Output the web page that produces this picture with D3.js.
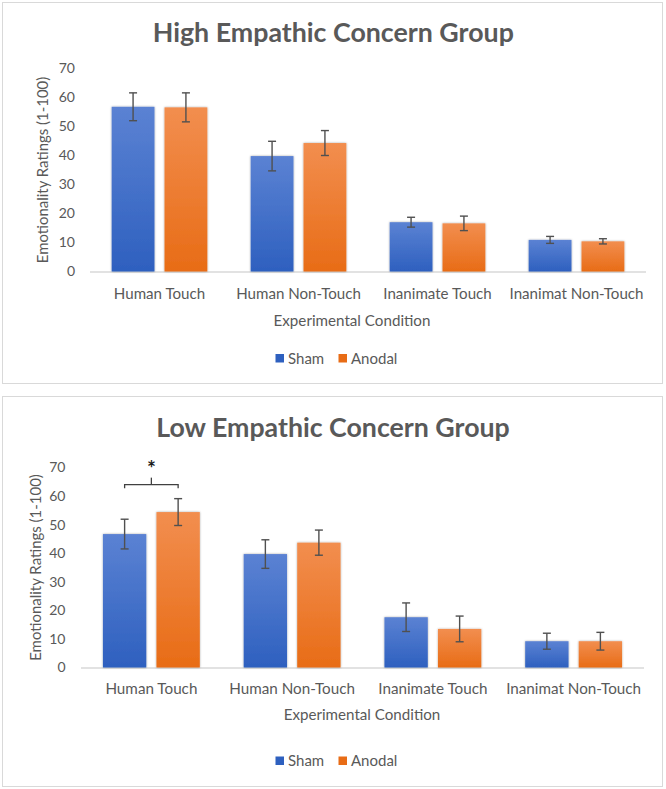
<!DOCTYPE html>
<html>
<head>
<meta charset="utf-8">
<script src="https://cdn.jsdelivr.net/npm/d3@7"></script>
<style>
  html, body { margin: 0; padding: 0; background: #ffffff; }
  svg { display: block; }
  text { font-family: Lato, "Open Sans", sans-serif; fill: #595959; }
</style>
</head>
<body>
<svg id="chart" width="666" height="789"></svg>
<script>
// ---------------- data ----------------
const categories = ["Human Touch", "Human Non-Touch", "Inanimate Touch", "Inanimat Non-Touch"];
const seriesNames = ["Sham", "Anodal"];
const yTicks = [0, 10, 20, 30, 40, 50, 60, 70];

const highTitle = "High Empathic Concern Group";
const highSham = [56.8, 39.8, 17.0, 10.9];
const highShamErr = [4.8, 5.1, 1.7, 1.2];
const highAnodal = [56.6, 44.3, 16.6, 10.4];
const highAnodalErr = [5.0, 4.3, 2.5, 0.9];

const lowTitle = "Low Empathic Concern Group";
const lowSham = [46.7, 39.7, 17.6, 9.2];
const lowShamErr = [5.2, 5.0, 5.0, 2.8];
const lowAnodal = [54.4, 43.7, 13.5, 9.2];
const lowAnodalErr = [4.7, 4.4, 4.5, 3.1];
const lowSignificance = [{ category: "Human Touch", level: 64.0, label: "*" }];

const yAxisTitle = "Emotionality Ratings (1-100)";
const xAxisTitle = "Experimental Condition";

// ---------------- drawing ----------------
const svg = d3.select("#chart");
const defs = svg.append("defs");
const gradColors = {
  Sham: ["#5b82d3", "#2e60bf"],
  Anodal: ["#f28e4f", "#e86c16"]
};
seriesNames.forEach(s => {
  const g = defs.append("linearGradient").attr("id", "grad-" + s)
    .attr("x1", 0).attr("y1", 0).attr("x2", 0).attr("y2", 1);
  g.append("stop").attr("offset", "0%").attr("stop-color", gradColors[s][0]);
  g.append("stop").attr("offset", "100%").attr("stop-color", gradColors[s][1]);
});
const flt = defs.append("filter").attr("id", "soft").attr("x", "-20%").attr("y", "-20%")
  .attr("width", "140%").attr("height", "140%");
flt.append("feGaussianBlur").attr("in", "SourceAlpha").attr("stdDeviation", 1.2).attr("result", "b");
flt.append("feComponentTransfer").attr("in", "b").attr("result", "s")
  .append("feFuncA").attr("type", "linear").attr("slope", 0.35);
const fm = flt.append("feMerge");
fm.append("feMergeNode").attr("in", "s");
fm.append("feMergeNode").attr("in", "SourceGraphic");

function fitSize(sel, target, sample) {
  const node = sel.node();
  const fs = parseFloat(sel.attr("font-size"));
  let w;
  if (sample) {
    const tmp = svg.append("text").attr("font-size", fs).text(sample);
    w = tmp.node().getComputedTextLength();
    tmp.remove();
  } else {
    w = node.getComputedTextLength();
  }
  return fs * target / w;
}

function drawPanel(cfg) {
  const g = svg.append("g");
  // border
  g.append("rect").attr("x", cfg.box[0] + 0.5).attr("y", cfg.box[1] + 0.5)
    .attr("width", cfg.box[2]).attr("height", cfg.box[3])
    .attr("fill", "#ffffff").attr("stroke", "#d9d9d9").attr("stroke-width", 1);

  // title
  const t = g.append("text").attr("x", cfg.titleX).attr("y", cfg.titleY)
    .attr("text-anchor", "middle").attr("font-weight", "bold")
    .attr("font-size", 26).text(cfg.title);
  t.attr("font-size", fitSize(t, cfg.titleW).toFixed(2));

  const x0 = d3.scaleBand().domain(categories).range(cfg.xRange).paddingInner(0).paddingOuter(0);
  const x1 = d3.scaleBand().domain(seriesNames).range([0, x0.bandwidth()])
    .paddingInner(0.19).paddingOuter(0.41);
  const y = d3.scaleLinear().domain([0, 70]).range(cfg.yRange);

  // y axis (labels only)
  const yAxis = d3.axisLeft(y).tickValues(yTicks).tickSize(0).tickPadding(0);
  const ya = g.append("g").attr("transform", `translate(${cfg.yLabelRight},0)`).call(yAxis);
  ya.select(".domain").remove();
  ya.selectAll("text").attr("font-size", 14).attr("fill", "#595959")
    .style("font-family", "Lato, sans-serif");

  // baseline
  g.append("line").attr("x1", cfg.xRange[0]).attr("x2", cfg.xRange[1])
    .attr("y1", y(0) + 0.5).attr("y2", y(0) + 0.5)
    .attr("stroke", "#d9d9d9").attr("stroke-width", 1.3);

  // bars
  const rows = categories.map((c, i) => ({
    category: c,
    values: [
      { s: "Sham", v: cfg.sham[i], e: cfg.shamErr[i] },
      { s: "Anodal", v: cfg.anodal[i], e: cfg.anodalErr[i] }
    ]
  }));
  const grp = g.selectAll(".grp").data(rows).enter().append("g")
    .attr("transform", d => `translate(${x0(d.category)},0)`);
  grp.selectAll("rect").data(d => d.values).enter().append("rect")
    .attr("x", d => x1(d.s)).attr("width", x1.bandwidth())
    .attr("y", d => y(d.v)).attr("height", d => y(0) - y(d.v))
    .attr("fill", d => "url(#grad-" + d.s + ")")
    .attr("filter", "url(#soft)");

  // error bars
  const cap = 4;
  const eb = grp.selectAll(".eb").data(d => d.values).enter().append("g");
  eb.append("line")
    .attr("x1", d => x1(d.s) + x1.bandwidth() / 2).attr("x2", d => x1(d.s) + x1.bandwidth() / 2)
    .attr("y1", d => y(d.v + d.e)).attr("y2", d => y(d.v - d.e));
  eb.append("line")
    .attr("x1", d => x1(d.s) + x1.bandwidth() / 2 - cap).attr("x2", d => x1(d.s) + x1.bandwidth() / 2 + cap)
    .attr("y1", d => y(d.v + d.e)).attr("y2", d => y(d.v + d.e));
  eb.append("line")
    .attr("x1", d => x1(d.s) + x1.bandwidth() / 2 - cap).attr("x2", d => x1(d.s) + x1.bandwidth() / 2 + cap)
    .attr("y1", d => y(d.v - d.e)).attr("y2", d => y(d.v - d.e));
  eb.selectAll("line").attr("stroke", "#505050").attr("stroke-width", 1.4);

  // category labels
  const xAxis = d3.axisBottom(x0).tickSize(0).tickPadding(0);
  const xa = g.append("g").attr("transform", `translate(0,${cfg.catY})`).call(xAxis);
  xa.select(".domain").remove();
  const catFs = fitSize(xa.select("text").attr("font-size", 15), cfg.catW, categories[0]);
  xa.selectAll("text").attr("font-size", catFs.toFixed(2)).attr("fill", "#595959").attr("dy", "0.35em")
    .style("font-family", "Lato, sans-serif");

  // axis titles
  const yt = g.append("text").attr("transform", `translate(${cfg.yTitleX},${(cfg.yRange[0] + cfg.yRange[1]) / 2}) rotate(-90)`)
    .attr("text-anchor", "middle").attr("dy", "0.35em").attr("font-size", 14).text(yAxisTitle);
  yt.attr("font-size", fitSize(yt, cfg.yTitleW).toFixed(2));
  const xt = g.append("text").attr("x", cfg.xTitleX).attr("y", cfg.xTitleY).attr("dy", "0.35em")
    .attr("text-anchor", "middle").attr("font-size", 15).text(xAxisTitle);
  xt.attr("font-size", fitSize(xt, cfg.xTitleW).toFixed(2));

  // legend
  const lg = g.append("g").attr("transform", `translate(${cfg.legendX},${cfg.legendY})`);
  const legendOffsets = [0, 63];
  seriesNames.forEach((s, i) => {
    const it = lg.append("g").attr("transform", `translate(${legendOffsets[i]},0)`);
    it.append("rect").attr("x", 0).attr("y", -4.5).attr("width", 8.5).attr("height", 8.5)
      .attr("fill", gradColors[s][1]);
    it.append("text").attr("x", 12.5).attr("y", 0).attr("dy", "0.35em")
      .attr("font-size", 15).text(s);
  });

  // significance
  (cfg.sig || []).forEach(sg => {
    const xa0 = x0(sg.category) + x1("Sham") + x1.bandwidth() / 2;
    const xa1 = x0(sg.category) + x1("Anodal") + x1.bandwidth() / 2;
    const yy = y(sg.level);
    const sgG = g.append("g").attr("stroke", "#404040").attr("stroke-width", 1.3).attr("fill", "none");
    sgG.append("path").attr("d", `M${xa0},${yy + 3.5}V${yy}H${xa1}V${yy + 3.5}`);
    sgG.append("line").attr("x1", (xa0 + xa1) / 2).attr("x2", (xa0 + xa1) / 2)
      .attr("y1", yy).attr("y2", yy - 7);
    g.append("text").attr("x", (xa0 + xa1) / 2).attr("y", yy - 9)
      .attr("text-anchor", "middle").attr("font-size", 21).attr("font-weight", "bold")
      .style("fill", "#1a1a1a").text(sg.label);
  });
}

drawPanel({
  box: [2, 2, 660, 381],
  title: highTitle, titleX: 333.3, titleY: 41.7, titleW: 361,
  xRange: [90, 646], yRange: [271.5, 68.5], yLabelRight: 75,
  yTitleX: 43, yTitleW: 186.6, catY: 293.5, catW: 91.4,
  xTitleX: 352, xTitleY: 320.5, xTitleW: 157,
  legendX: 275.5, legendY: 358.5,
  sham: highSham, shamErr: highShamErr, anodal: highAnodal, anodalErr: highAnodalErr
});

drawPanel({
  box: [2, 396, 660, 390],
  title: lowTitle, titleX: 333, titleY: 437, titleW: 353.5,
  xRange: [81, 644], yRange: [667.5, 467.5], yLabelRight: 65.5,
  yTitleX: 36, yTitleW: 186.7, catY: 688.5, catW: 92,
  xTitleX: 362, xTitleY: 714.5, xTitleW: 156.7,
  legendX: 275.5, legendY: 761,
  sham: lowSham, shamErr: lowShamErr, anodal: lowAnodal, anodalErr: lowAnodalErr,
  sig: lowSignificance
});
</script>
</body>
</html>
